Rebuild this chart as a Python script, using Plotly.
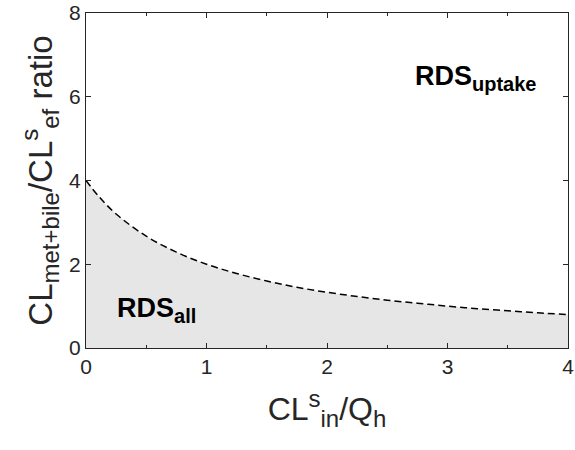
import plotly.graph_objects as go

x_vals = [0, 0.1, 0.25, 0.5, 0.75, 1.0, 1.25, 1.5, 1.75, 2.0, 2.25, 2.5, 2.75, 3.0, 3.25, 3.5, 3.75, 4.0]
ratio = [4.0, 3.64, 3.2, 2.67, 2.29, 2.0, 1.78, 1.6, 1.45, 1.33, 1.23, 1.14, 1.07, 1.0, 0.94, 0.89, 0.84, 0.8]
x_ticks = [0, 1, 2, 3, 4]
y_ticks = [0, 2, 4, 6, 8]

FONT = "Arial, Liberation Sans, sans-serif"

def sub(t, size):
    return f"<sub><span style='font-size:{size}px'>{t}</span></sub>"

def sup(t, size):
    return f"<sup><span style='font-size:{size}px'>{t}</span></sup>"

fig = go.Figure()
fig.add_trace(go.Scatter(x=x_vals, y=ratio, mode="lines", fill="tozeroy",
                         fillcolor="#e6e6e6", line=dict(color="rgba(0,0,0,0)", width=0, shape="spline"),
                         hoverinfo="skip", showlegend=False))
fig.add_trace(go.Scatter(x=x_vals, y=ratio, mode="lines",
                         line=dict(color="black", width=1.5, dash="7px,4px", shape="spline"),
                         showlegend=False))

fig.add_annotation(x=0.24, y=0.9, xref="x", yref="y", xanchor="left", yanchor="middle",
                   text="<b>RDS" + sub("all", 20) + "</b>", showarrow=False,
                   font=dict(family=FONT, size=27, color="black"))
fig.add_annotation(x=2.71, y=6.45, xref="x", yref="y", xanchor="left", yanchor="middle",
                   text="<b>RDS" + sub("uptake", 20) + "</b>", showarrow=False,
                   font=dict(family=FONT, size=27, color="black"))

axis_common = dict(showgrid=False, zeroline=False, showline=True, linecolor="#262626",
                   linewidth=1, mirror="ticks", ticks="inside", ticklen=5, tickcolor="#262626",
                   automargin=False,
                   tickfont=dict(family=FONT, size=21, color="#262626"))

fig.update_xaxes(range=[0, 4], tickvals=x_ticks,
                 minor=dict(ticks="inside", ticklen=3, dtick=0.5, tickcolor="#262626"),
                 title=dict(text="CL" + sup("s", 24) + sub("in", 24) + "/Q" + sub("h", 24),
                            font=dict(family=FONT, size=32, color="#262626"), standoff=20),
                 **axis_common)
fig.update_yaxes(range=[0, 8], tickvals=y_ticks,
                 title=dict(text="CL" + sub("met+bile", 24) + "/CL" + sup("s", 24) + sub("ef", 24) + " ratio",
                            font=dict(family=FONT, size=33, color="#262626"), standoff=6),
                 **axis_common)

fig.update_layout(width=575, height=450, margin=dict(l=86, r=7, t=13, b=102),
                  plot_bgcolor="white", paper_bgcolor="white")

# remove the default 8px page-body margin so the figure sits at the window origin
fig.write_html("out.html", config={"displayModeBar": False},
               post_script="document.body.style.margin='0px';document.body.style.overflow='hidden';")
